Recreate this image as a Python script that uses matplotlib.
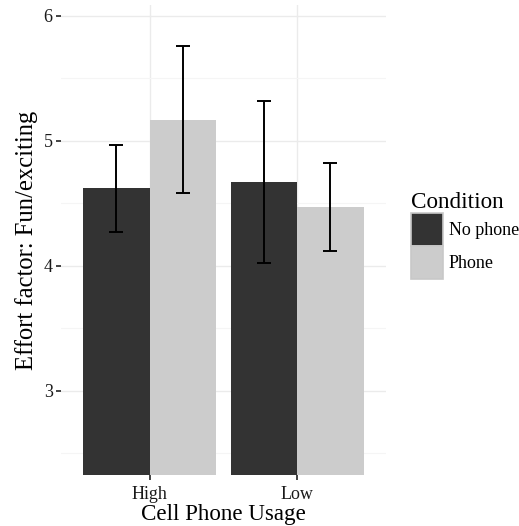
import numpy as np
import matplotlib.pyplot as plt
from matplotlib.patches import Patch

plt.close('all')

usage = ['High', 'Low']
conditions = ['No phone', 'Phone']
means_no_phone = [4.62, 4.67]
means_phone = [5.17, 4.47]
err_no_phone = [0.35, 0.65]
err_phone = [0.59, 0.35]
bar_colors = ['#333333', '#CCCCCC']

plt.rcParams['font.family'] = ['Liberation Serif', 'DejaVu Serif']

fig = plt.figure(figsize=(5.19, 5.26), dpi=100)
ax = fig.add_axes([0.1175, 0.097, 0.626, 0.8935])

x = np.arange(1, len(usage) + 1)
w = 0.45
ymin = 2.328

for means, errs, col, off in [(means_no_phone, err_no_phone, bar_colors[0], -w / 2),
                               (means_phone, err_phone, bar_colors[1], w / 2)]:
    heights = np.array(means) - ymin
    ax.bar(x + off, heights, bottom=ymin, width=w, color=col, zorder=2)
    ax.errorbar(x + off, means, yerr=errs, fmt='none', ecolor='black',
                elinewidth=1.4, capsize=5, capthick=1.4, zorder=3)

ax.set_xlim(0.4, 2.6)
ax.set_ylim(ymin, 6.088)

ax.set_yticks([3, 4, 5, 6])
ax.set_yticks([2.5, 3.5, 4.5, 5.5], minor=True)
ax.set_xticks(x)
ax.set_xticklabels(usage)

ax.grid(which='major', color='#EBEBEB', linewidth=1.0, zorder=0)
ax.grid(which='minor', axis='y', color='#F5F5F5', linewidth=0.8, zorder=0)
ax.set_axisbelow(True)
for s in ax.spines.values():
    s.set_visible(False)

ax.tick_params(axis='both', which='major', length=3.5, width=1.2, color='#222222',
               labelsize=13, labelcolor='#1a1a1a')
ax.tick_params(axis='x', pad=4.4)
ax.tick_params(axis='y', pad=2.5)
ax.tick_params(which='minor', length=0)

ax.set_xlabel('Cell Phone Usage', fontsize=16.6, labelpad=1)
ax.set_ylabel('Effort factor: Fun/exciting', fontsize=17.7, labelpad=4)

handles = [Patch(facecolor=c, edgecolor='#C8C8C8', linewidth=1.2) for c in bar_colors]
leg = fig.legend(handles, conditions, title='Condition', loc='center left',
                 bbox_to_anchor=(0.778, 0.553), frameon=False, fontsize=13,
                 title_fontsize=16.7, handlelength=1.75, handleheight=2.44,
                 handletextpad=0.35, labelspacing=0.0, borderaxespad=0)
leg._legend_box.align = 'left'

fig.savefig('out.png', dpi=100)
